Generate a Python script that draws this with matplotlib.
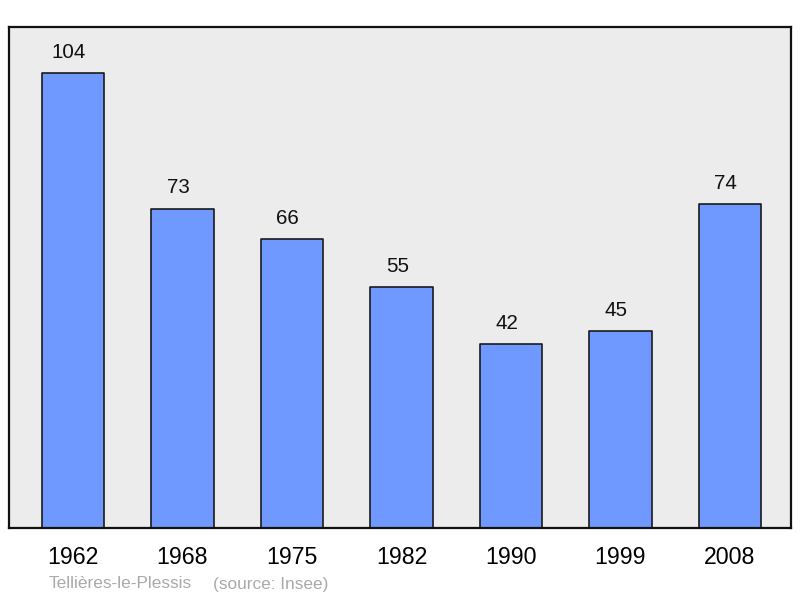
import matplotlib
matplotlib.use("Agg")
import matplotlib.pyplot as plt

plt.rcParams["font.family"] = ["Liberation Sans", "DejaVu Sans"]

years = ["1962", "1968", "1975", "1982", "1990", "1999", "2008"]
population = [104, 73, 66, 55, 42, 45, 74]
commune = "Tellières-le-Plessis"
source = "(source: Insee)"

fig = plt.figure(figsize=(8.0, 5.98), dpi=100)
ax = fig.add_axes([9 / 800, 70 / 598, 782 / 800, 501 / 598])
ax.set_facecolor("#ececec")

x = list(range(len(years)))
ax.bar(x, population, width=0.57, color="#7099ff", edgecolor="#1a1a1a",
       linewidth=1.2, joinstyle="round", zorder=2)
for xi, v in zip(x, population):
    ax.annotate(str(v), (xi, v), xytext=(-3, 15), textcoords="offset points",
                ha="center", va="center", fontsize=14.8, color="#111111")

ax.set_xlim(-0.584, 6.557)
ax.set_ylim(0, 114.5)
ax.set_xticks(x)
ax.set_xticklabels(years, fontsize=16.7)
ax.tick_params(axis="x", length=0, pad=13)
ax.set_yticks([])
for sp in ax.spines.values():
    sp.set_linewidth(1.6)
    sp.set_color("#111111")

fig.text(49 / 800, 1 - 584 / 598, commune, fontsize=12.4, color="#aaaaaa",
         ha="left", va="center")
fig.text(213 / 800, 1 - 584 / 598, source, fontsize=12.4, color="#aaaaaa",
         ha="left", va="center")

fig.savefig("out.png", dpi=100)
